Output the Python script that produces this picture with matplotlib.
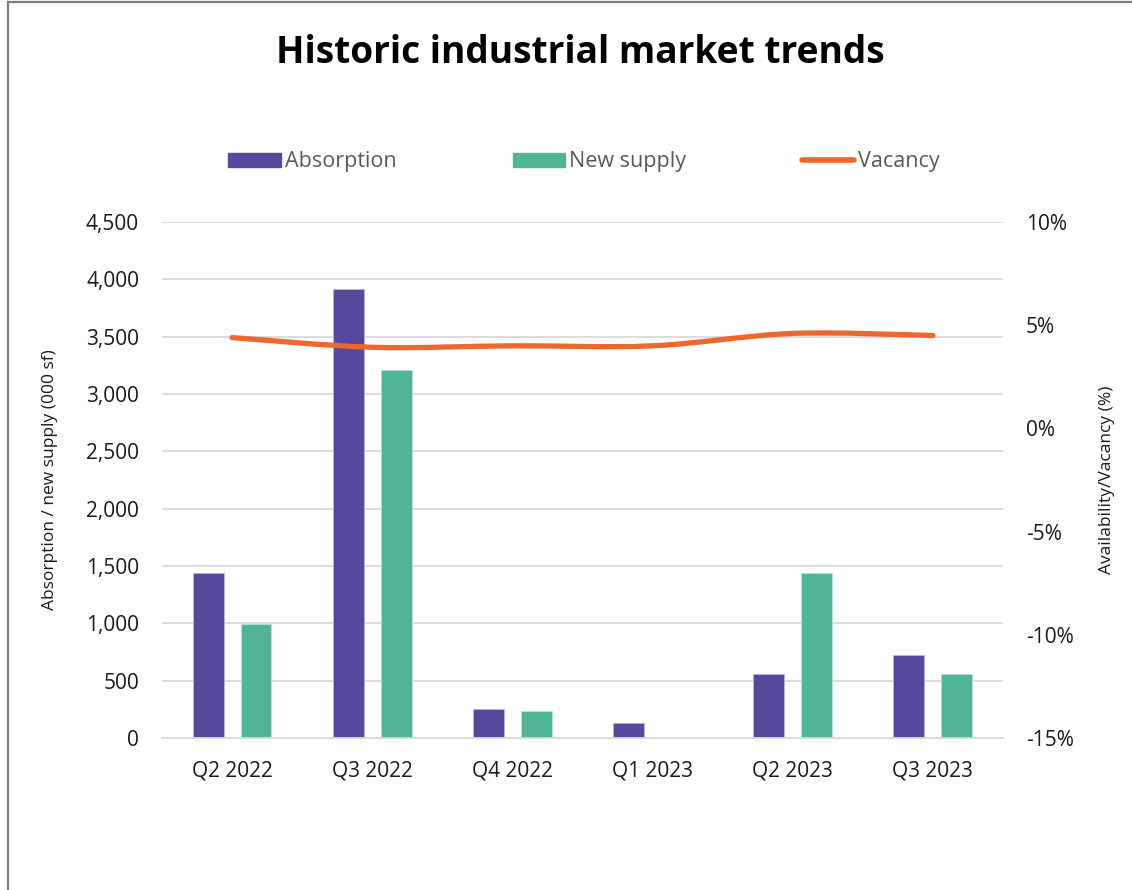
import matplotlib
matplotlib.use("Agg")
import matplotlib.pyplot as plt
import numpy as np
from matplotlib.path import Path
from matplotlib.patches import PathPatch, Rectangle
from matplotlib.lines import Line2D
from matplotlib.ticker import FuncFormatter, MultipleLocator

plt.rcParams["font.family"] = ["Open Sans", "DejaVu Sans"]

quarters = ["Q2 2022", "Q3 2022", "Q4 2022", "Q1 2023", "Q2 2023", "Q3 2023"]
absorption = [1440, 3915, 250, 130, 560, 720]
new_supply = [990, 3210, 235, 0, 1440, 558]
vacancy = [4.4, 3.93, 4.0, 4.0, 4.6, 4.5]

c_abs = "#56499c"
c_new = "#4fb596"
c_vac = "#ee672c"

fig = plt.figure(figsize=(11.32, 8.90), dpi=100)
ax = fig.add_axes([0.1431, 0.1708, 0.7429, 0.5798])
ax2 = ax.twinx()

x = np.arange(len(quarters))
w = 0.22
off = 0.171
ax.bar(x - off, absorption, w, color=c_abs, edgecolor="#b9b3d8", linewidth=0.6, zorder=2)
ax.bar(x + off, new_supply, w, color=c_new, edgecolor="#b8e3d5", linewidth=0.6, zorder=2)

ax.set_xlim(-0.5, len(quarters) - 0.5)
ax.set_ylim(0, 4500)
ax.yaxis.set_major_locator(MultipleLocator(500))
ax.yaxis.set_major_formatter(FuncFormatter(lambda v, p: f"{v:,.0f}"))
ax.set_xticks(x)
ax.set_xticklabels(quarters)
ax.grid(axis="y", color="#d9d9d9", linewidth=1.3, zorder=0)
ax.set_axisbelow(True)
for s in ["top", "right", "left"]:
    ax.spines[s].set_visible(False)
ax.spines["bottom"].set_color("#d9d9d9")
ax.spines["bottom"].set_linewidth(1.3)
ax.tick_params(axis="y", length=0, pad=16.5, labelsize=15, labelcolor="#1a1a1a")
ax.tick_params(axis="x", length=0, pad=16, labelsize=15, labelcolor="#1a1a1a")
ax.set_ylabel("Absorption / new supply (000 sf)", fontsize=12.5, labelpad=20, color="#1a1a1a")

# smoothed vacancy line (bezier through the data points)
pts = np.column_stack([x, vacancy]).astype(float)
ext = np.vstack([pts[0], pts, pts[-1]])
verts = [tuple(pts[0])]
codes = [Path.MOVETO]
for i in range(len(pts) - 1):
    p0, p1, p2, p3 = ext[i], ext[i + 1], ext[i + 2], ext[i + 3]
    verts += [tuple(p1 + (p2 - p0) / 6), tuple(p2 - (p3 - p1) / 6), tuple(p2)]
    codes += [Path.CURVE4] * 3
ax2.add_patch(PathPatch(Path(verts, codes), facecolor="none", edgecolor=c_vac,
                        linewidth=3.8, capstyle="round", zorder=3))

ax2.set_ylim(-15, 10)
ax2.yaxis.set_major_locator(MultipleLocator(5))
ax2.yaxis.set_major_formatter(FuncFormatter(lambda v, p: f"{v:.0f}%"))
for s in ax2.spines.values():
    s.set_visible(False)
ax2.tick_params(axis="y", length=0, pad=16.5, labelsize=15, labelcolor="#1a1a1a")
ax2.set_ylabel("Availability/Vacancy (%)", fontsize=12.5, labelpad=18, color="#1a1a1a")

fig.text(0.513, 0.941, "Historic industrial market trends", ha="center", va="center",
         fontsize=26.7, fontweight="bold", color="black")

handles = [Rectangle((0, 0), 1, 1, color=c_abs), Rectangle((0, 0), 1, 1, color=c_new),
           Line2D([], [], color=c_vac, linewidth=4, solid_capstyle="round")]
fig.legend(handles, ["Absorption", "New supply", "Vacancy"], loc="center",
           bbox_to_anchor=(0.516, 0.818), ncol=3, frameon=False, fontsize=15.5,
           labelcolor="#595959", handlelength=2.42, handleheight=0.6,
           handletextpad=0.19, columnspacing=5.4)

# outer frame (left and top edges only)
fig.add_artist(Line2D([0.0075, 0.0075], [0, 0.998], color="#7f7f7f", linewidth=1.6,
                      transform=fig.transFigure))
fig.add_artist(Line2D([0.0075, 1], [0.998, 0.998], color="#7f7f7f", linewidth=1.6,
                      transform=fig.transFigure))

fig.savefig("out.png", dpi=100, facecolor="white")
